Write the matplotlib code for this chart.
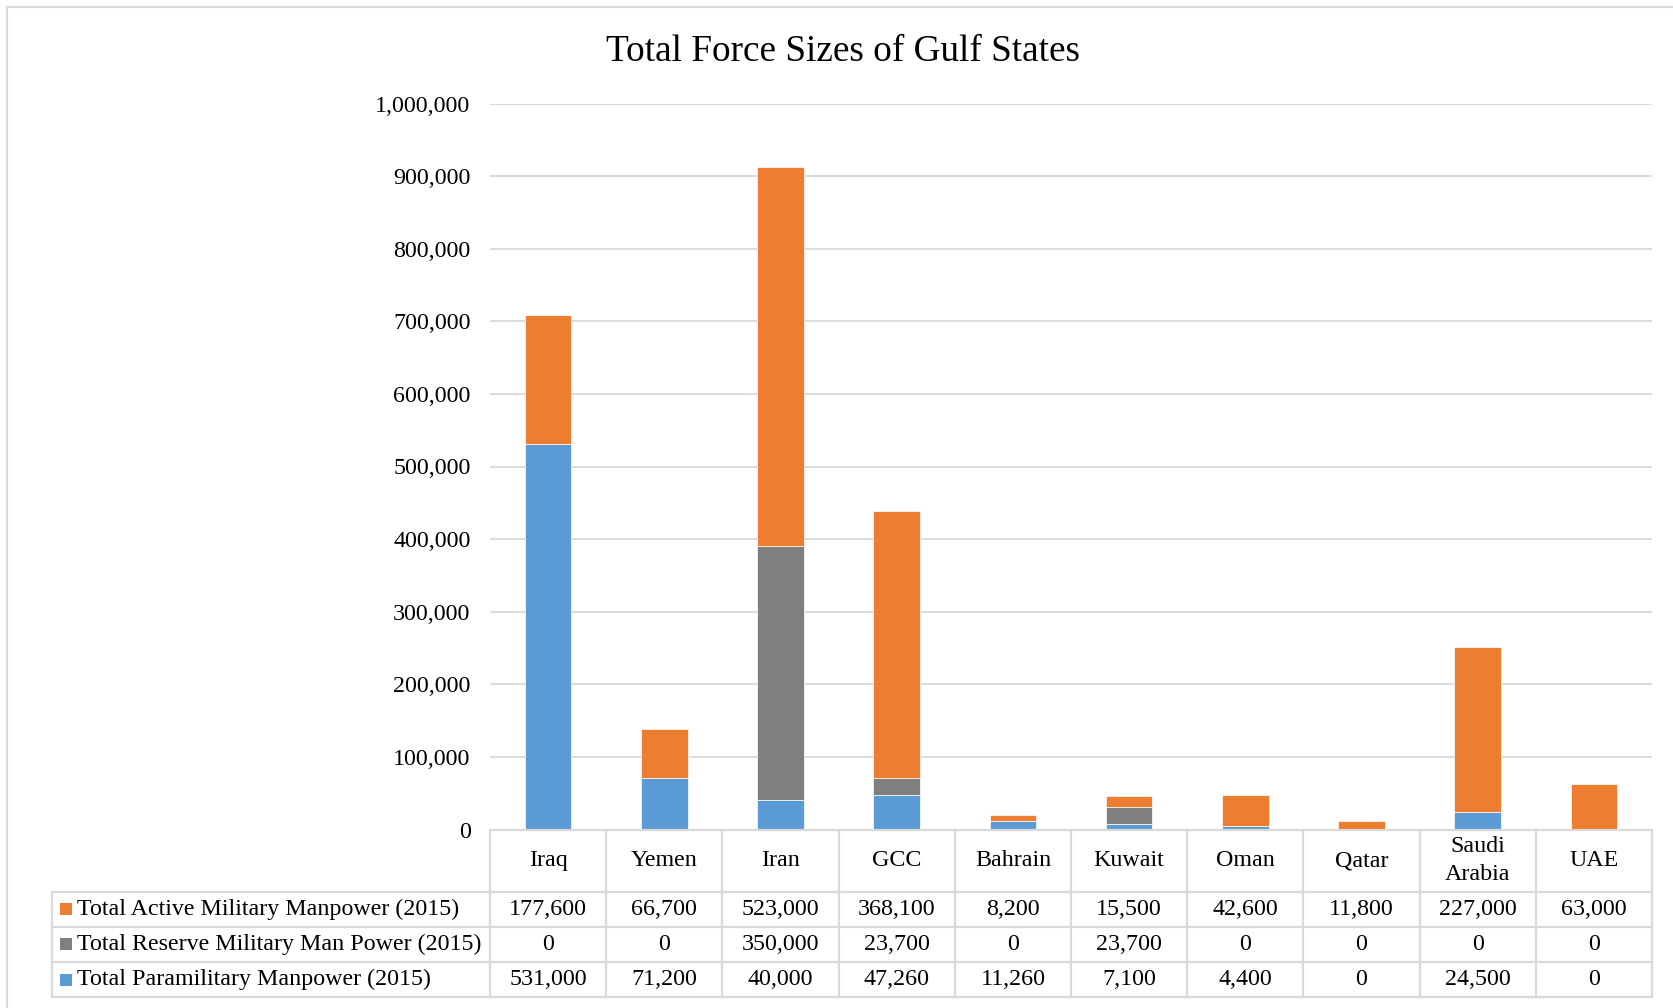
import matplotlib
matplotlib.use('Agg')
import matplotlib.pyplot as plt
from matplotlib.patches import Rectangle
from matplotlib.lines import Line2D
from matplotlib.transforms import blended_transform_factory
from matplotlib.ticker import FuncFormatter

# data
countries = ['Iraq', 'Yemen', 'Iran', 'GCC', 'Bahrain', 'Kuwait', 'Oman', 'Qatar',
             'Saudi\nArabia', 'UAE']
active = [177600, 66700, 523000, 368100, 8200, 15500, 42600, 11800, 227000, 63000]
reserve = [0, 0, 350000, 23700, 0, 23700, 0, 0, 0, 0]
paramil = [531000, 71200, 40000, 47260, 11260, 7100, 4400, 0, 24500, 0]
series_names = ['Total Active Military Manpower (2015)',
                'Total Reserve Military Man Power (2015)',
                'Total Paramilitary Manpower (2015)']

C_ACT = '#ED7D31'
C_RES = '#7F7F7F'
C_PAR = '#5B9BD5'
GRID = '#D9D9D9'
FONT = 'Liberation Serif'
FS = 17.3

W, H = 1674, 1008
fig = plt.figure(figsize=(W / 100, H / 100), dpi=100)

def fx(px):
    return px / W

def fy(py):  # py measured from the top
    return 1 - py / H

# outer frame (left + top only, rest falls off the canvas)
fig.add_artist(Line2D([fx(7), fx(7)], [fy(7), 0], color=GRID, lw=1.6))
fig.add_artist(Line2D([fx(7), 1], [fy(7), fy(7)], color=GRID, lw=1.6))

ax_l, ax_r, ax_t, ax_b = 490, 1652, 103.5, 829.5
ax = fig.add_axes([fx(ax_l), fy(ax_b), fx(ax_r - ax_l), (ax_b - ax_t) / H])

x = list(range(len(countries)))
bw = 0.4
ax.bar(x, paramil, bw, color=C_PAR, edgecolor='white', linewidth=0.5, zorder=3)
ax.bar(x, reserve, bw, bottom=paramil, color=C_RES, edgecolor='white',
       linewidth=0.5, zorder=3)
bott = [p + r for p, r in zip(paramil, reserve)]
ax.bar(x, active, bw, bottom=bott, color=C_ACT, edgecolor='white',
       linewidth=0.5, zorder=3)

ax.set_xlim(-0.5, len(countries) - 0.5)
ax.set_ylim(0, 1000000)
ax.set_yticks(range(0, 1000001, 100000))
ax.yaxis.set_major_formatter(FuncFormatter(lambda v, p: f'{int(v):,}'))
ax.tick_params(axis='y', length=0, pad=14, labelsize=FS)
ax.tick_params(axis='x', bottom=False, labelbottom=False)
for lab in ax.get_yticklabels():
    lab.set_fontfamily(FONT)
ax.grid(axis='y', color=GRID, lw=1.3, zorder=0)
for s in ax.spines.values():
    s.set_visible(False)

fig.text(fx(843), fy(52), 'Total Force Sizes of Gulf States', ha='center',
         va='center', fontsize=26.8, family=FONT)

# data table under the plot
tr = blended_transform_factory(ax.transData, fig.transFigure)
rows_y = [829.5, 891.5, 926.7, 962, 997]
lw_t = 1.6
# horizontal rules
fig.add_artist(Line2D([fx(ax_l), fx(ax_r)], [fy(rows_y[0])] * 2, color=GRID, lw=lw_t))
for yy in rows_y[1:]:
    fig.add_artist(Line2D([fx(52), fx(ax_r)], [fy(yy)] * 2, color=GRID, lw=lw_t))
# vertical rules
for i in range(len(countries) + 1):
    fig.add_artist(Line2D([i - 0.5, i - 0.5], [fy(rows_y[0]), fy(rows_y[-1])],
                          color=GRID, lw=lw_t, transform=tr))
fig.add_artist(Line2D([fx(52), fx(52)], [fy(rows_y[1]), fy(rows_y[-1])],
                      color=GRID, lw=lw_t))

hdr_y = (rows_y[0] + rows_y[1]) / 2
for i, c in enumerate(countries):
    fig.text(i, fy(hdr_y), c, transform=tr, ha='center', va='center',
             fontsize=FS, family=FONT, linespacing=1.4)

table_rows = [(active, C_ACT), (reserve, C_RES), (paramil, C_PAR)]
for r, ((vals, col), name) in enumerate(zip(table_rows, series_names)):
    cy = (rows_y[r + 1] + rows_y[r + 2]) / 2
    fig.add_artist(Rectangle((fx(60), fy(cy + 6)), fx(12), 12 / H,
                             facecolor=col, edgecolor='none'))
    fig.text(fx(77), fy(cy), name, ha='left', va='center', fontsize=FS, family=FONT)
    for i, v in enumerate(vals):
        fig.text(i, fy(cy), f'{v:,}', transform=tr, ha='center', va='center',
                 fontsize=FS, family=FONT)

fig.savefig('out.png', dpi=100, facecolor='white')
